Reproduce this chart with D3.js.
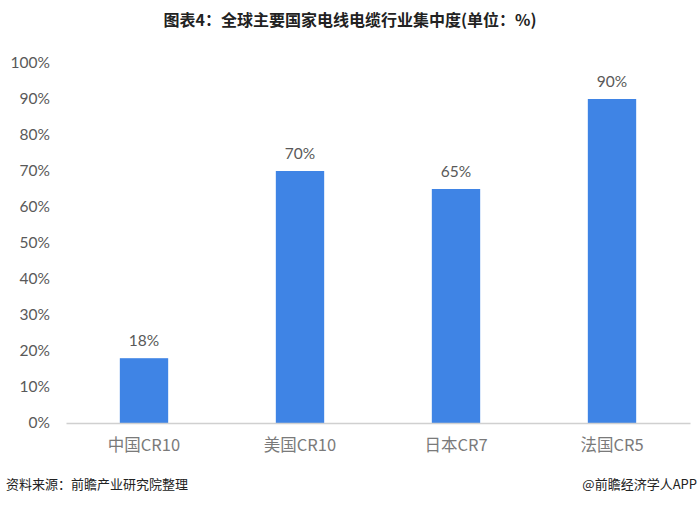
<!DOCTYPE html>
<html><head><meta charset="utf-8">
<script src="https://cdn.jsdelivr.net/npm/d3@7"></script>
<style>body{margin:0;background:#fff}</style>
</head><body>
<svg id="c" width="700" height="505"></svg>
<script>
const categories = ["中国CR10","美国CR10","日本CR7","法国CR5"];
const values = [18,70,65,90];
const yTicks = [0,10,20,30,40,50,60,70,80,90,100];
const title = "图表4：全球主要国家电线电缆行业集中度(单位：%)";
const source = "资料来源：前瞻产业研究院整理";
const credit = "@前瞻经济学人APP";

const svg = d3.select("#c");
const x = d3.scaleBand().domain(categories).range([66,690]).paddingInner(0.69).paddingOuter(0.345);
const y = d3.scaleLinear().domain([0,100]).range([423,63]);
const num = "Lato, 'Noto Sans CJK SC', sans-serif";

svg.append("rect").attr("width",700).attr("height",505).attr("fill","#fff");

svg.append("text").attr("x",350).attr("y",26).attr("text-anchor","middle")
  .attr("font-family","'Noto Sans CJK SC', sans-serif").attr("font-weight","bold")
  .attr("font-size",16).attr("fill","#222").text(title);

const yAxis = svg.append("g").attr("transform","translate(50,0)")
  .call(d3.axisLeft(y).tickValues(yTicks).tickSize(0).tickPadding(0).tickFormat(d=>d+"%"));
yAxis.select(".domain").remove();
yAxis.selectAll("text").attr("font-family",num).attr("font-size",15.5).attr("fill","#595959");

svg.selectAll("rect.bar").data(values).enter().append("rect").attr("class","bar")
  .attr("x",(d,i)=>x(categories[i])).attr("width",x.bandwidth())
  .attr("y",d=>y(d)).attr("height",d=>y(0)-y(d)).attr("fill","#3f84e5");

svg.selectAll("text.val").data(values).enter().append("text").attr("class","val")
  .attr("x",(d,i)=>x(categories[i])+x.bandwidth()/2).attr("y",d=>y(d)-12)
  .attr("text-anchor","middle").attr("font-family",num).attr("font-size",15.5)
  .attr("fill","#595959").text(d=>d+"%");

const xAxis = svg.append("g").attr("transform","translate(0,423)")
  .call(d3.axisBottom(x).tickSize(0).tickPadding(16));
xAxis.select(".domain").attr("stroke","#d0d0d0").attr("stroke-width",1.5);
xAxis.selectAll("text").attr("font-family","'Noto Sans CJK SC', sans-serif").attr("font-size",16.5).attr("fill","#7a7a7a");

svg.append("text").attr("x",6).attr("y",489).attr("font-family","'Noto Sans CJK SC', sans-serif")
  .attr("font-size",13).attr("fill","#222").text(source);
svg.append("text").attr("x",697).attr("y",489).attr("text-anchor","end").attr("font-family","'Noto Sans CJK SC', sans-serif")
  .attr("font-size",13).attr("fill","#222").text(credit);
</script>
</body></html>
